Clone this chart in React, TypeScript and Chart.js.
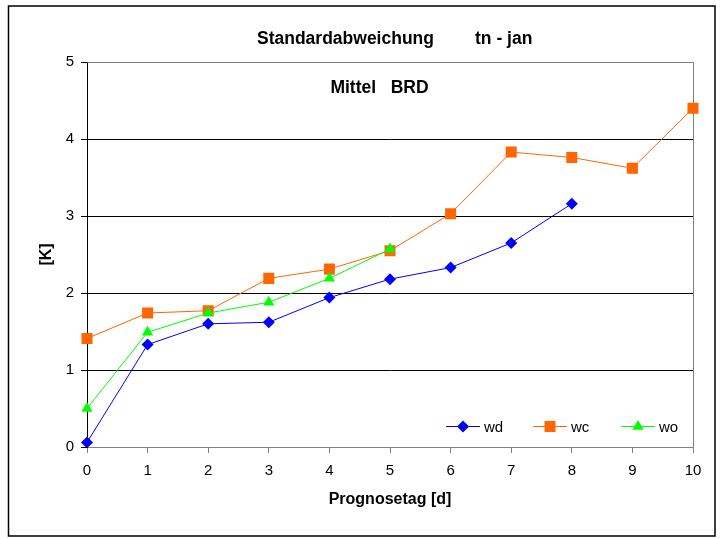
import React, { useEffect, useRef } from "react";
import { Chart, registerables } from "chart.js";

Chart.register(...registerables);

// ---- data ----
const xLabels = ["0", "1", "2", "3", "4", "5", "6", "7", "8", "9", "10"];
const wdValues = [0.06, 1.33, 1.6, 1.62, 1.94, 2.18, 2.33, 2.65, 3.16];
const wcValues = [1.41, 1.74, 1.77, 2.19, 2.31, 2.55, 3.03, 3.83, 3.76, 3.62, 4.4];
const woValues = [0.5, 1.49, 1.74, 1.88, 2.19, 2.57];
const seriesNames = ["wd", "wc", "wo"];
const yTicks = [0, 1, 2, 3, 4, 5];

const titleMain = "Standardabweichung";
const titleSub = "tn - jan";
const subTitle = "Mittel   BRD";
const xTitle = "Prognosetag [d]";
const yTitle = "[K]";

const FONT = "'Liberation Sans', Arial, Helvetica, sans-serif";
const BLUE = "#0000FF";
const ORANGE = "#FF6600";
const GREEN = "#00FF00";
const GRAY = "#808080";

function drawMarker(ctx: CanvasRenderingContext2D, style: string, x: number, y: number, color: string) {
  ctx.save();
  ctx.fillStyle = color;
  ctx.beginPath();
  if (style === "rectRot") {
    const r = 6;
    ctx.moveTo(x - r, y);
    ctx.lineTo(x, y - r);
    ctx.lineTo(x + r, y);
    ctx.lineTo(x, y + r);
  } else if (style === "rect") {
    const h = 5.5;
    ctx.rect(x - h, y - h, 2 * h, 2 * h);
  } else {
    const r = 6.5;
    ctx.moveTo(x, y - r);
    ctx.lineTo(x + r * Math.sin((2 * Math.PI) / 3), y - r * Math.cos((2 * Math.PI) / 3));
    ctx.lineTo(x + r * Math.sin((4 * Math.PI) / 3), y - r * Math.cos((4 * Math.PI) / 3));
  }
  ctx.closePath();
  ctx.fill();
  ctx.restore();
}

const decorPlugin = {
  id: "decor",
  beforeDraw(chart: any) {
    const ctx = chart.ctx as CanvasRenderingContext2D;
    ctx.save();
    ctx.fillStyle = "#FFFFFF";
    ctx.fillRect(0, 0, chart.width, chart.height);
    ctx.strokeStyle = "#000000";
    ctx.lineWidth = 1.5;
    ctx.strokeRect(8.5, 6, 706.5, 530);
    ctx.restore();
  },
  beforeDatasetsDraw(chart: any) {
    const ctx = chart.ctx as CanvasRenderingContext2D;
    const a = chart.chartArea;
    ctx.save();
    ctx.strokeStyle = GRAY;
    ctx.lineWidth = 1;
    ctx.beginPath();
    ctx.moveTo(Math.round(a.left) + 0.5, Math.round(a.top) + 0.5);
    ctx.lineTo(Math.round(a.right) + 0.5, Math.round(a.top) + 0.5);
    ctx.lineTo(Math.round(a.right) + 0.5, Math.round(a.bottom) + 0.5);
    ctx.stroke();
    ctx.restore();
  },
  afterDraw(chart: any) {
    const ctx = chart.ctx as CanvasRenderingContext2D;
    ctx.save();
    ctx.fillStyle = "#000000";
    ctx.textBaseline = "alphabetic";
    ctx.font = `bold 17.5px ${FONT}`;
    ctx.textAlign = "left";
    ctx.fillText(titleMain, 257, 43.5);
    ctx.fillText(titleSub, 475, 43.5);
    ctx.textAlign = "center";
    ctx.fillText(subTitle, 379.5, 93);

    // legend
    const items = [
      { x: 446, style: "rectRot", color: BLUE },
      { x: 533, style: "rect", color: ORANGE },
      { x: 621, style: "triangle", color: GREEN },
    ];
    const ly = 426;
    ctx.font = `15px ${FONT}`;
    ctx.textAlign = "left";
    items.forEach((it, i) => {
      const ds = chart.data.datasets[i];
      ctx.strokeStyle = ds.borderColor;
      ctx.lineWidth = 1;
      ctx.beginPath();
      ctx.moveTo(it.x, ly + 0.5);
      ctx.lineTo(it.x + 34, ly + 0.5);
      ctx.stroke();
      drawMarker(ctx, ds.pointStyle, it.x + 17, ly + 0.5, ds.backgroundColor);
      ctx.fillStyle = "#000000";
      ctx.fillText(ds.label, it.x + 38, ly + 5.5);
    });
    ctx.restore();
  },
};

export default function App() {
  const canvasRef = useRef<HTMLCanvasElement | null>(null);

  useEffect(() => {
    document.body.style.margin = "0";
    const canvas = canvasRef.current;
    if (!canvas) return;
    const chart = new Chart(canvas, {
      type: "line",
      data: {
        labels: xLabels,
        datasets: [
          {
            label: seriesNames[0],
            data: wdValues,
            borderColor: BLUE,
            backgroundColor: BLUE,
            borderWidth: 1,
            pointStyle: "rectRot",
            pointRadius: 6,
            pointBorderWidth: 0,
            pointBackgroundColor: BLUE,
            tension: 0,
            order: 2,
          },
          {
            label: seriesNames[1],
            data: wcValues,
            borderColor: ORANGE,
            backgroundColor: ORANGE,
            borderWidth: 1,
            pointStyle: "rect",
            pointRadius: 7.8,
            pointBorderWidth: 0,
            pointBackgroundColor: ORANGE,
            tension: 0,
            order: 1,
          },
          {
            label: seriesNames[2],
            data: woValues,
            borderColor: GREEN,
            backgroundColor: GREEN,
            borderWidth: 1,
            pointStyle: "triangle",
            pointRadius: 6.5,
            pointBorderWidth: 0,
            pointBackgroundColor: GREEN,
            tension: 0,
            order: 0,
          },
        ],
      },
      options: {
        responsive: false,
        animation: false,
        devicePixelRatio: 1,
        layout: { padding: { left: 0, top: 62, right: 29, bottom: 0 } },
        plugins: {
          legend: { display: false },
          title: { display: false },
          tooltip: { enabled: false },
        },
        scales: {
          x: {
            type: "category",
            offset: false,
            grid: {
              drawOnChartArea: false,
              drawTicks: true,
              tickLength: 6,
              tickColor: GRAY,
            },
            border: { display: true, color: GRAY, width: 1 },
            ticks: {
              color: "#000000",
              font: { family: FONT, size: 15 },
              padding: 9,
              maxRotation: 0,
              autoSkip: false,
            },
            title: {
              display: true,
              text: xTitle,
              color: "#000000",
              font: { family: FONT, size: 16, weight: "bold" },
              padding: { top: 0, bottom: 30 },
            },
            afterFit: (scale: any) => {
              scale.height = 92;
            },
          },
          y: {
            type: "linear",
            min: 0,
            max: 5,
            afterBuildTicks: (scale: any) => {
              scale.ticks = yTicks.map((v) => ({ value: v }));
            },
            grid: {
              color: (c: any) =>
                c.tick && (c.tick.value === 5 || c.tick.value === 0) ? GRAY : "#000000",
              lineWidth: 1,
              drawTicks: true,
              tickLength: 6,
              tickColor: "#000000",
            },
            border: { display: true, color: "#000000", width: 1 },
            ticks: {
              color: "#000000",
              font: { family: FONT, size: 15 },
              padding: 7,
            },
            title: {
              display: true,
              text: yTitle,
              color: "#000000",
              font: { family: FONT, size: 16, weight: "bold" },
              padding: { top: 37, bottom: 0 },
            },
            afterFit: (scale: any) => {
              scale.width = 87;
            },
          },
        },
      },
      plugins: [decorPlugin],
    });
    return () => {
      chart.destroy();
    };
  }, []);

  return (
    <div style={{ position: "absolute", left: 0, top: 0, width: 722, height: 539 }}>
      <canvas ref={canvasRef} width={722} height={539} style={{ display: "block" }} />
    </div>
  );
}
